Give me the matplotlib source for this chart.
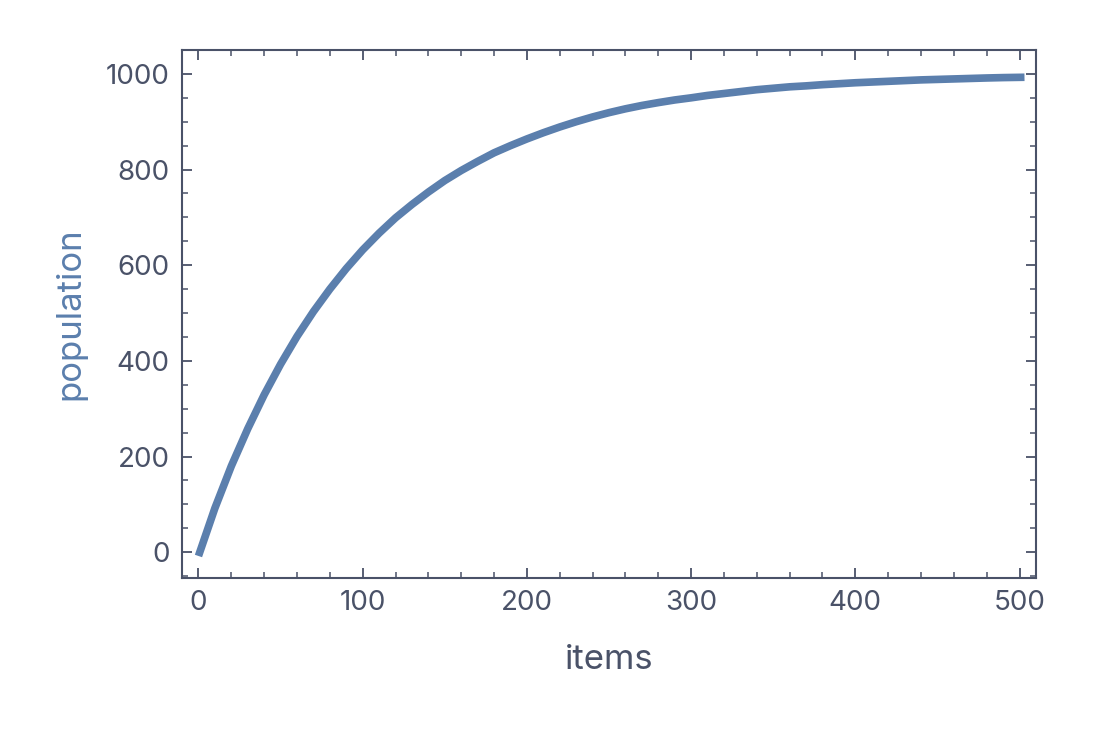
import numpy as np
import matplotlib.pyplot as plt
from matplotlib.ticker import MultipleLocator

# values
items = [0, 10, 20, 30, 40, 50, 60, 70, 80, 90, 100, 110, 120, 130, 140, 150,
         160, 170, 180, 190, 200, 210, 220, 230, 240, 250, 260, 270, 280, 290,
         300, 310, 320, 330, 340, 350, 360, 370, 380, 390, 400, 410, 420, 430,
         440, 450, 460, 470, 480, 490, 503]
population = [-8, 92, 180, 258, 329, 393, 451, 503, 550, 593, 632, 667, 699,
              727, 753, 777, 798, 817, 835, 850, 864, 877, 889, 900, 910, 919,
              927, 934, 940, 945.5, 950, 955, 959, 963, 967, 970, 973, 975,
              977.5, 979.5, 981.5, 983, 984.5, 986, 987.5, 988.5, 989.5, 990.5,
              991.5, 992.3, 993]

line_color = '#5b7fad'
frame_color = '#4a5268'

plt.rcParams['font.family'] = ['Inter', 'DejaVu Sans']

fig = plt.figure(figsize=(11, 7.32), dpi=100)
ax = fig.add_axes([0.1655, 0.2104, 0.7763, 0.7213])

ax.plot(items, population, color=line_color, lw=5.5,
        solid_capstyle='butt', solid_joinstyle='round')

ax.set_xlim(-10, 510)
ax.set_ylim(-54, 1050)
ax.xaxis.set_major_locator(MultipleLocator(100))
ax.xaxis.set_minor_locator(MultipleLocator(20))
ax.yaxis.set_major_locator(MultipleLocator(200))
ax.yaxis.set_minor_locator(MultipleLocator(50))

for s in ax.spines.values():
    s.set_color(frame_color)
    s.set_linewidth(1.5)
ax.tick_params(which='both', direction='in', top=True, right=True,
               color=frame_color, labelcolor=frame_color, labelsize=20)
ax.tick_params(which='major', length=7, width=1.3, pad=9)
ax.tick_params(which='minor', length=4, width=1.1)

ax.set_xlabel('items', fontsize=25, color=frame_color, labelpad=20)
ax.set_ylabel('population', fontsize=25, color=line_color, labelpad=14)

fig.savefig('out.png', dpi=100)
